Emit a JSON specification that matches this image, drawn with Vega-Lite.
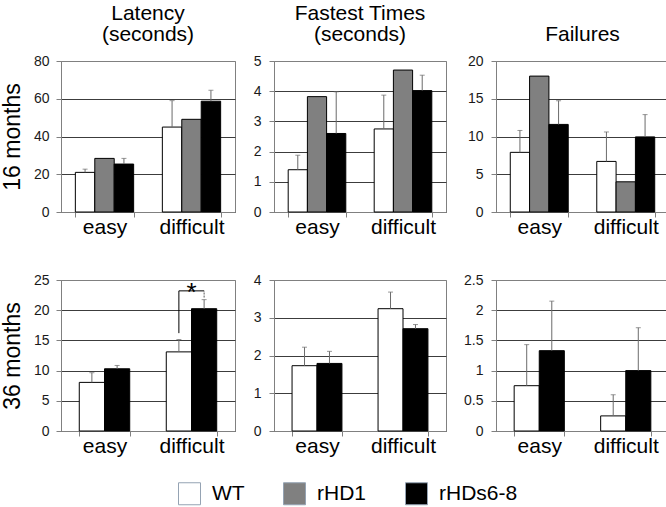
{
  "$schema": "https://vega.github.io/schema/vega-lite/v6.json",
  "background": "white",
  "padding": {"left": 0, "top": 2, "right": 3, "bottom": 5},
  "config": {
    "font": "Liberation Sans",
    "view": {"stroke": "#808080", "strokeWidth": 1},
    "axis": {"labelFont": "Liberation Sans", "titleFont": "Liberation Sans"},
    "legend": {
      "symbolType": "square", "symbolSize": 484, "symbolStrokeWidth": 1, "symbolStrokeColor": "#95a3b3",
      "labelFontSize": 21, "labelFont": "Liberation Sans", "labelColor": "#000000", "labelOffset": 11,
      "columnPadding": 36, "direction": "horizontal", "title": null
    }
  },
  "datasets": {
    "d": [
      {"panel": "L16", "cond": "easy", "group": "WT", "value": 21, "hi": 22.7},
      {"panel": "L16", "cond": "easy", "group": "rHD1", "value": 28.4, "hi": null},
      {"panel": "L16", "cond": "easy", "group": "rHDs6-8", "value": 25.4, "hi": 28.4},
      {"panel": "L16", "cond": "difficult", "group": "WT", "value": 45, "hi": 59},
      {"panel": "L16", "cond": "difficult", "group": "rHD1", "value": 49.1, "hi": null},
      {"panel": "L16", "cond": "difficult", "group": "rHDs6-8", "value": 58.7, "hi": 64.5},
      {"panel": "F16", "cond": "easy", "group": "WT", "value": 1.4, "hi": 1.88},
      {"panel": "F16", "cond": "easy", "group": "rHD1", "value": 3.82, "hi": null},
      {"panel": "F16", "cond": "easy", "group": "rHDs6-8", "value": 2.6, "hi": 3.98},
      {"panel": "F16", "cond": "difficult", "group": "WT", "value": 2.75, "hi": 3.87},
      {"panel": "F16", "cond": "difficult", "group": "rHD1", "value": 4.7, "hi": null},
      {"panel": "F16", "cond": "difficult", "group": "rHDs6-8", "value": 4.02, "hi": 4.53},
      {"panel": "X16", "cond": "easy", "group": "WT", "value": 7.9, "hi": 10.8},
      {"panel": "X16", "cond": "easy", "group": "rHD1", "value": 18, "hi": null},
      {"panel": "X16", "cond": "easy", "group": "rHDs6-8", "value": 11.6, "hi": 14.75},
      {"panel": "X16", "cond": "difficult", "group": "WT", "value": 6.7, "hi": 10.6},
      {"panel": "X16", "cond": "difficult", "group": "rHD1", "value": 4, "hi": null},
      {"panel": "X16", "cond": "difficult", "group": "rHDs6-8", "value": 9.95, "hi": 12.9},
      {"panel": "L36", "cond": "easy", "group": "WT", "value": 8.05, "hi": 9.65},
      {"panel": "L36", "cond": "easy", "group": "rHDs6-8", "value": 10.3, "hi": 10.85},
      {"panel": "L36", "cond": "difficult", "group": "WT", "value": 13.1, "hi": 15.15},
      {"panel": "L36", "cond": "difficult", "group": "rHDs6-8", "value": 20.25, "hi": 21.75},
      {"panel": "F36", "cond": "easy", "group": "WT", "value": 1.73, "hi": 2.22},
      {"panel": "F36", "cond": "easy", "group": "rHDs6-8", "value": 1.79, "hi": 2.11},
      {"panel": "F36", "cond": "difficult", "group": "WT", "value": 3.24, "hi": 3.68},
      {"panel": "F36", "cond": "difficult", "group": "rHDs6-8", "value": 2.71, "hi": 2.82},
      {"panel": "X36", "cond": "easy", "group": "WT", "value": 0.75, "hi": 1.43},
      {"panel": "X36", "cond": "easy", "group": "rHDs6-8", "value": 1.33, "hi": 2.15},
      {"panel": "X36", "cond": "difficult", "group": "WT", "value": 0.25, "hi": 0.6},
      {"panel": "X36", "cond": "difficult", "group": "rHDs6-8", "value": 1.0, "hi": 1.71}
    ],
    "bracket": [
      {"cond": "difficult", "group": "WT", "y": 16.2, "o": 1},
      {"cond": "difficult", "group": "WT", "y": 23.2, "o": 2},
      {"cond": "difficult", "group": "rHDs6-8", "y": 23.2, "o": 3}
    ],
    "bracketRight": [
      {"cond": "difficult", "group": "rHDs6-8", "y": 22.1, "y2": 23.2}
    ],
    "star": [
      {"cond": "difficult", "y": 21.6, "label": "*"}
    ]
  },
  "columns": 3,
  "spacing": {"row": 34, "column": 16},
  "resolve": {"scale": {"x": "independent", "y": "independent", "xOffset": "independent", "color": "shared"}},
  "concat": [
    {
      "width": 174, "height": 151,
      "title": {"text": ["Latency", "(seconds)"], "fontSize": 21, "fontWeight": "normal", "font": "Liberation Sans", "color": "#000000", "lineHeight": 21, "offset": 9, "anchor": "middle", "frame": "group"},
      "data": {"name": "d"},
      "transform": [{"filter": "datum.panel == 'L16'"}],
      "layer": [
        {
          "mark": {"type": "bar", "stroke": "#000000", "strokeWidth": 1},
          "encoding": {
            "x": {"field": "cond", "type": "nominal", "sort": ["easy", "difficult"], "scale": {"paddingInner": 0.33, "paddingOuter": 0.165}, "axis": {"title": null, "labelAngle": 0, "labelFontSize": 21, "labelColor": "#000000", "domainColor": "#808080", "tickColor": "#808080", "tickBand": "extent", "tickSize": 5, "labelPadding": -1, "minExtent": 25, "maxExtent": 25}},
            "xOffset": {"field": "group", "type": "nominal", "scale": {"domain": ["WT", "rHD1", "rHDs6-8"], "paddingInner": 0, "paddingOuter": 0}},
            "y": {"field": "value", "type": "quantitative", "scale": {"domain": [0, 80], "nice": false}, "axis": {"values": [0, 20, 40, 60, 80], "format": "~g", "tickCount": 20, "labelOverlap": false, "grid": true, "gridColor": {"condition": {"test": "datum.value == 80", "value": "#808080"}, "value": "#3c3c3c"}, "domainColor": "#808080", "tickColor": "#808080", "tickSize": 5, "labelPadding": 7, "labelFontSize": 14, "labelColor": "#1a1a1a", "minExtent": 28, "maxExtent": 28, "title": "16 months", "titleFontSize": 23, "titleFontWeight": "normal", "titleColor": "#000000", "titlePadding": 9}},
            "color": {"field": "group", "type": "nominal", "scale": {"domain": ["WT", "rHD1", "rHDs6-8"], "range": ["#ffffff", "#808080", "#000000"]}, "legend": {"orient": "none", "legendX": 117, "legendY": 421}}
          }
        },
        {
          "transform": [{"filter": "isValid(datum.hi)"}],
          "mark": {"type": "rule", "color": "#6b6b6b", "strokeWidth": 1},
          "encoding": {"x": {"field": "cond", "type": "nominal", "sort": ["easy", "difficult"]}, "xOffset": {"field": "group", "type": "nominal"}, "y": {"field": "value", "type": "quantitative"}, "y2": {"field": "hi"}}
        },
        {
          "transform": [{"filter": "isValid(datum.hi)"}],
          "mark": {"type": "tick", "orient": "horizontal", "size": 5, "thickness": 1, "color": "#6b6b6b"},
          "encoding": {"x": {"field": "cond", "type": "nominal", "sort": ["easy", "difficult"]}, "xOffset": {"field": "group", "type": "nominal"}, "y": {"field": "hi", "type": "quantitative"}}
        }
      ]
    },
    {
      "width": 172, "height": 151,
      "title": {"text": ["Fastest Times", "(seconds)"], "fontSize": 21, "fontWeight": "normal", "font": "Liberation Sans", "color": "#000000", "lineHeight": 21, "offset": 9, "anchor": "middle", "frame": "group"},
      "data": {"name": "d"},
      "transform": [{"filter": "datum.panel == 'F16'"}],
      "layer": [
        {
          "mark": {"type": "bar", "stroke": "#000000", "strokeWidth": 1},
          "encoding": {
            "x": {"field": "cond", "type": "nominal", "sort": ["easy", "difficult"], "scale": {"paddingInner": 0.33, "paddingOuter": 0.165}, "axis": {"title": null, "labelAngle": 0, "labelFontSize": 21, "labelColor": "#000000", "domainColor": "#808080", "tickColor": "#808080", "tickBand": "extent", "tickSize": 5, "labelPadding": -1, "minExtent": 25, "maxExtent": 25}},
            "xOffset": {"field": "group", "type": "nominal", "scale": {"domain": ["WT", "rHD1", "rHDs6-8"], "paddingInner": 0, "paddingOuter": 0}},
            "y": {"field": "value", "type": "quantitative", "scale": {"domain": [0, 5], "nice": false}, "axis": {"values": [0, 1, 2, 3, 4, 5], "format": "~g", "tickCount": 20, "labelOverlap": false, "grid": true, "gridColor": {"condition": {"test": "datum.value == 5", "value": "#808080"}, "value": "#3c3c3c"}, "domainColor": "#808080", "tickColor": "#808080", "tickSize": 5, "labelPadding": 8, "labelFontSize": 14, "labelColor": "#1a1a1a", "minExtent": 21, "maxExtent": 21, "title": null}},
            "color": {"field": "group", "type": "nominal", "scale": {"domain": ["WT", "rHD1", "rHDs6-8"], "range": ["#ffffff", "#808080", "#000000"]}}
          }
        },
        {
          "transform": [{"filter": "isValid(datum.hi)"}],
          "mark": {"type": "rule", "color": "#6b6b6b", "strokeWidth": 1},
          "encoding": {"x": {"field": "cond", "type": "nominal", "sort": ["easy", "difficult"]}, "xOffset": {"field": "group", "type": "nominal"}, "y": {"field": "value", "type": "quantitative"}, "y2": {"field": "hi"}}
        },
        {
          "transform": [{"filter": "isValid(datum.hi)"}],
          "mark": {"type": "tick", "orient": "horizontal", "size": 5, "thickness": 1, "color": "#6b6b6b"},
          "encoding": {"x": {"field": "cond", "type": "nominal", "sort": ["easy", "difficult"]}, "xOffset": {"field": "group", "type": "nominal"}, "y": {"field": "hi", "type": "quantitative"}}
        }
      ]
    },
    {
      "width": 173, "height": 151,
      "title": {"text": "Failures", "fontSize": 21, "fontWeight": "normal", "font": "Liberation Sans", "color": "#000000", "lineHeight": 21, "offset": 9, "anchor": "middle", "frame": "group"},
      "data": {"name": "d"},
      "transform": [{"filter": "datum.panel == 'X16'"}],
      "layer": [
        {
          "mark": {"type": "bar", "stroke": "#000000", "strokeWidth": 1},
          "encoding": {
            "x": {"field": "cond", "type": "nominal", "sort": ["easy", "difficult"], "scale": {"paddingInner": 0.33, "paddingOuter": 0.165}, "axis": {"title": null, "labelAngle": 0, "labelFontSize": 21, "labelColor": "#000000", "domainColor": "#808080", "tickColor": "#808080", "tickBand": "extent", "tickSize": 5, "labelPadding": -1, "minExtent": 25, "maxExtent": 25}},
            "xOffset": {"field": "group", "type": "nominal", "scale": {"domain": ["WT", "rHD1", "rHDs6-8"], "paddingInner": 0, "paddingOuter": 0}},
            "y": {"field": "value", "type": "quantitative", "scale": {"domain": [0, 20], "nice": false}, "axis": {"values": [0, 5, 10, 15, 20], "format": "~g", "tickCount": 20, "labelOverlap": false, "grid": true, "gridColor": {"condition": {"test": "datum.value == 20", "value": "#808080"}, "value": "#3c3c3c"}, "domainColor": "#808080", "tickColor": "#808080", "tickSize": 5, "labelPadding": 8, "labelFontSize": 14, "labelColor": "#1a1a1a", "minExtent": 30, "maxExtent": 30, "title": null}},
            "color": {"field": "group", "type": "nominal", "scale": {"domain": ["WT", "rHD1", "rHDs6-8"], "range": ["#ffffff", "#808080", "#000000"]}}
          }
        },
        {
          "transform": [{"filter": "isValid(datum.hi)"}],
          "mark": {"type": "rule", "color": "#6b6b6b", "strokeWidth": 1},
          "encoding": {"x": {"field": "cond", "type": "nominal", "sort": ["easy", "difficult"]}, "xOffset": {"field": "group", "type": "nominal"}, "y": {"field": "value", "type": "quantitative"}, "y2": {"field": "hi"}}
        },
        {
          "transform": [{"filter": "isValid(datum.hi)"}],
          "mark": {"type": "tick", "orient": "horizontal", "size": 5, "thickness": 1, "color": "#6b6b6b"},
          "encoding": {"x": {"field": "cond", "type": "nominal", "sort": ["easy", "difficult"]}, "xOffset": {"field": "group", "type": "nominal"}, "y": {"field": "hi", "type": "quantitative"}}
        }
      ]
    },
    {
      "width": 174, "height": 151,
      "layer": [
        {
          "data": {"name": "d"},
          "transform": [{"filter": "datum.panel == 'L36'"}],
          "mark": {"type": "bar", "stroke": "#000000", "strokeWidth": 1},
          "encoding": {
            "x": {"field": "cond", "type": "nominal", "sort": ["easy", "difficult"], "scale": {"paddingInner": 0.42, "paddingOuter": 0.21}, "axis": {"title": null, "labelAngle": 0, "labelFontSize": 21, "labelColor": "#000000", "domainColor": "#808080", "tickColor": "#808080", "tickBand": "extent", "tickSize": 5, "labelPadding": -1, "minExtent": 25, "maxExtent": 25}},
            "xOffset": {"field": "group", "type": "nominal", "scale": {"domain": ["WT", "rHDs6-8"], "paddingInner": 0, "paddingOuter": 0}},
            "y": {"field": "value", "type": "quantitative", "scale": {"domain": [0, 25], "nice": false}, "axis": {"values": [0, 5, 10, 15, 20, 25], "format": "~g", "tickCount": 20, "labelOverlap": false, "grid": true, "gridColor": {"condition": {"test": "datum.value == 25", "value": "#808080"}, "value": "#3c3c3c"}, "domainColor": "#808080", "tickColor": "#808080", "tickSize": 5, "labelPadding": 7, "labelFontSize": 14, "labelColor": "#1a1a1a", "minExtent": 28, "maxExtent": 28, "title": "36 months", "titleFontSize": 23, "titleFontWeight": "normal", "titleColor": "#000000", "titlePadding": 9}},
            "color": {"field": "group", "type": "nominal", "scale": {"domain": ["WT", "rHD1", "rHDs6-8"], "range": ["#ffffff", "#808080", "#000000"]}}
          }
        },
        {
          "data": {"name": "d"},
          "transform": [{"filter": "datum.panel == 'L36' && isValid(datum.hi)"}],
          "mark": {"type": "rule", "color": "#6b6b6b", "strokeWidth": 1},
          "encoding": {"x": {"field": "cond", "type": "nominal", "sort": ["easy", "difficult"]}, "xOffset": {"field": "group", "type": "nominal"}, "y": {"field": "value", "type": "quantitative"}, "y2": {"field": "hi"}}
        },
        {
          "data": {"name": "d"},
          "transform": [{"filter": "datum.panel == 'L36' && isValid(datum.hi)"}],
          "mark": {"type": "tick", "orient": "horizontal", "size": 5, "thickness": 1, "color": "#6b6b6b"},
          "encoding": {"x": {"field": "cond", "type": "nominal", "sort": ["easy", "difficult"]}, "xOffset": {"field": "group", "type": "nominal"}, "y": {"field": "hi", "type": "quantitative"}}
        },
        {
          "data": {"name": "bracket"},
          "mark": {"type": "line", "color": "#000000", "strokeWidth": 1, "interpolate": "linear"},
          "encoding": {"x": {"field": "cond", "type": "nominal", "sort": ["easy", "difficult"]}, "xOffset": {"field": "group", "type": "nominal"}, "y": {"field": "y", "type": "quantitative"}, "order": {"field": "o"}}
        },
        {
          "data": {"name": "bracketRight"},
          "mark": {"type": "rule", "color": "#555555", "strokeWidth": 1, "strokeDash": [2, 1]},
          "encoding": {"x": {"field": "cond", "type": "nominal", "sort": ["easy", "difficult"]}, "xOffset": {"field": "group", "type": "nominal"}, "y": {"field": "y", "type": "quantitative"}, "y2": {"field": "y2"}}
        },
        {
          "data": {"name": "star"},
          "mark": {"type": "text", "fontSize": 26, "baseline": "alphabetic", "align": "center", "color": "#000000"},
          "encoding": {"x": {"field": "cond", "type": "nominal", "sort": ["easy", "difficult"]}, "y": {"field": "y", "type": "quantitative"}, "text": {"field": "label"}}
        }
      ]
    },
    {
      "width": 172, "height": 151,
      "data": {"name": "d"},
      "transform": [{"filter": "datum.panel == 'F36'"}],
      "layer": [
        {
          "mark": {"type": "bar", "stroke": "#000000", "strokeWidth": 1},
          "encoding": {
            "x": {"field": "cond", "type": "nominal", "sort": ["easy", "difficult"], "scale": {"paddingInner": 0.42, "paddingOuter": 0.21}, "axis": {"title": null, "labelAngle": 0, "labelFontSize": 21, "labelColor": "#000000", "domainColor": "#808080", "tickColor": "#808080", "tickBand": "extent", "tickSize": 5, "labelPadding": -1, "minExtent": 25, "maxExtent": 25}},
            "xOffset": {"field": "group", "type": "nominal", "scale": {"domain": ["WT", "rHDs6-8"], "paddingInner": 0, "paddingOuter": 0}},
            "y": {"field": "value", "type": "quantitative", "scale": {"domain": [0, 4], "nice": false}, "axis": {"values": [0, 1, 2, 3, 4], "format": "~g", "tickCount": 20, "labelOverlap": false, "grid": true, "gridColor": {"condition": {"test": "datum.value == 4", "value": "#808080"}, "value": "#3c3c3c"}, "domainColor": "#808080", "tickColor": "#808080", "tickSize": 5, "labelPadding": 8, "labelFontSize": 14, "labelColor": "#1a1a1a", "minExtent": 21, "maxExtent": 21, "title": null}},
            "color": {"field": "group", "type": "nominal", "scale": {"domain": ["WT", "rHD1", "rHDs6-8"], "range": ["#ffffff", "#808080", "#000000"]}}
          }
        },
        {
          "transform": [{"filter": "isValid(datum.hi)"}],
          "mark": {"type": "rule", "color": "#6b6b6b", "strokeWidth": 1},
          "encoding": {"x": {"field": "cond", "type": "nominal", "sort": ["easy", "difficult"]}, "xOffset": {"field": "group", "type": "nominal"}, "y": {"field": "value", "type": "quantitative"}, "y2": {"field": "hi"}}
        },
        {
          "transform": [{"filter": "isValid(datum.hi)"}],
          "mark": {"type": "tick", "orient": "horizontal", "size": 5, "thickness": 1, "color": "#6b6b6b"},
          "encoding": {"x": {"field": "cond", "type": "nominal", "sort": ["easy", "difficult"]}, "xOffset": {"field": "group", "type": "nominal"}, "y": {"field": "hi", "type": "quantitative"}}
        }
      ]
    },
    {
      "width": 173, "height": 151,
      "data": {"name": "d"},
      "transform": [{"filter": "datum.panel == 'X36'"}],
      "layer": [
        {
          "mark": {"type": "bar", "stroke": "#000000", "strokeWidth": 1},
          "encoding": {
            "x": {"field": "cond", "type": "nominal", "sort": ["easy", "difficult"], "scale": {"paddingInner": 0.42, "paddingOuter": 0.21}, "axis": {"title": null, "labelAngle": 0, "labelFontSize": 21, "labelColor": "#000000", "domainColor": "#808080", "tickColor": "#808080", "tickBand": "extent", "tickSize": 5, "labelPadding": -1, "minExtent": 25, "maxExtent": 25}},
            "xOffset": {"field": "group", "type": "nominal", "scale": {"domain": ["WT", "rHDs6-8"], "paddingInner": 0, "paddingOuter": 0}},
            "y": {"field": "value", "type": "quantitative", "scale": {"domain": [0, 2.5], "nice": false}, "axis": {"values": [0, 0.5, 1, 1.5, 2, 2.5], "format": "~g", "tickCount": 20, "labelOverlap": false, "grid": true, "gridColor": {"condition": {"test": "datum.value == 2.5", "value": "#808080"}, "value": "#3c3c3c"}, "domainColor": "#808080", "tickColor": "#808080", "tickSize": 5, "labelPadding": 8, "labelFontSize": 14, "labelColor": "#1a1a1a", "minExtent": 30, "maxExtent": 30, "title": null}},
            "color": {"field": "group", "type": "nominal", "scale": {"domain": ["WT", "rHD1", "rHDs6-8"], "range": ["#ffffff", "#808080", "#000000"]}}
          }
        },
        {
          "transform": [{"filter": "isValid(datum.hi)"}],
          "mark": {"type": "rule", "color": "#6b6b6b", "strokeWidth": 1},
          "encoding": {"x": {"field": "cond", "type": "nominal", "sort": ["easy", "difficult"]}, "xOffset": {"field": "group", "type": "nominal"}, "y": {"field": "value", "type": "quantitative"}, "y2": {"field": "hi"}}
        },
        {
          "transform": [{"filter": "isValid(datum.hi)"}],
          "mark": {"type": "tick", "orient": "horizontal", "size": 5, "thickness": 1, "color": "#6b6b6b"},
          "encoding": {"x": {"field": "cond", "type": "nominal", "sort": ["easy", "difficult"]}, "xOffset": {"field": "group", "type": "nominal"}, "y": {"field": "hi", "type": "quantitative"}}
        }
      ]
    }
  ]
}
